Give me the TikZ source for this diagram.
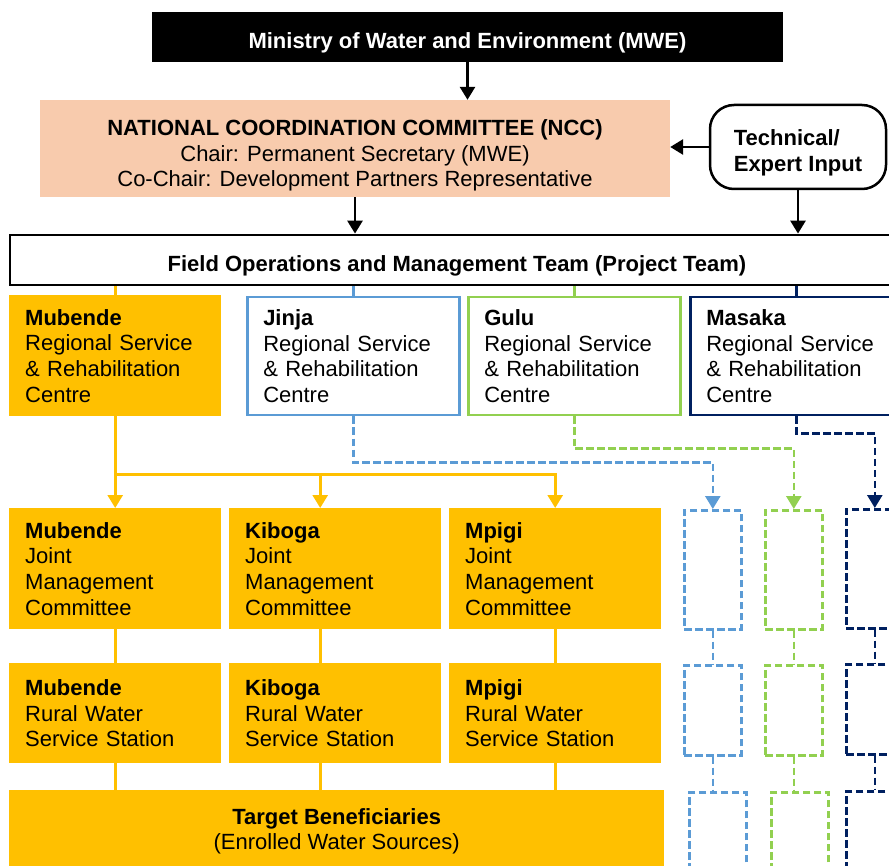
\documentclass[tikz,border=0pt]{standalone}
\usepackage{fontspec}
\setmainfont{Liberation Sans}
\usetikzlibrary{arrows.meta}
\definecolor{unitorange}{HTML}{FFC000}
\definecolor{nccpeach}{HTML}{F8CBAD}
\definecolor{jinjablue}{HTML}{5B9BD5}
\definecolor{gulugreen}{HTML}{92D050}
\definecolor{masakanavy}{HTML}{002060}
\tikzset{
  txt/.style={font=\fontsize{22}{25.7}\selectfont},
  btxt/.style={font=\fontsize{22}{25.7}\selectfont\bfseries},
  unitbox/.style={txt,anchor=north west,text width=180pt,inner xsep=16pt,inner ysep=0pt,align=left},
  orgbox/.style={unitbox,fill=unitorange},
  regbox/.style={unitbox,draw=#1,line width=2.5pt,fill=white},
  ghostbox/.style={anchor=north west,draw=#1,line width=2.6pt,dash pattern=on 7.5pt off 3.5pt,minimum width=57pt},
  link/.style={line width=2.8pt,draw=#1},
  linkarrow/.style={link=#1,-{Triangle[width=15pt,length=13pt]}},
  ghostline/.style={link=#1,line width=2.6pt,dash pattern=on 7.5pt off 3.5pt},
  ghostlink/.style={ghostline=#1,-{Triangle[width=15pt,length=13pt]}},
}
\begin{document}
\begin{tikzpicture}[x=1pt,y=-1pt]
\useasboundingbox (0,0) rectangle (889,866);
\clip (0,0) rectangle (889,866);
% ministry, committee and project team
\node[btxt,fill=black,text=white,text height=24pt,text depth=0pt,minimum width=631pt,minimum height=50pt] (mwe) at (467.5,37) {Ministry of Water and Environment (MWE)};
\node[txt,fill=nccpeach,align=center,minimum width=630pt,minimum height=97pt,inner ysep=0pt] (ncc) at (355,148.5)
  {\rule{0pt}{30pt}\textbf{NATIONAL COORDINATION COMMITTEE (NCC)}\\Chair: Permanent Secretary (MWE)\\Co-Chair: Development Partners Representative};
\node[btxt,draw,line width=2.5pt,rounded corners=24pt,align=left,minimum width=176pt,minimum height=84pt] (tech) at (798,147) {\rule{0pt}{27pt}Technical/\\Expert Input};
\node[btxt,draw,line width=2.8pt,fill=white,text height=24pt,text depth=0pt,minimum width=894pt,minimum height=50pt] (fomt) at (457,260) {Field Operations and Management Team (Project Team)};
% regional centres
\node[orgbox,minimum height=121pt] (mrsc) at (9,295) {\textbf{Mubende}\\Regional Service\\\& Rehabilitation\\Centre};
\node[regbox=jinjablue,minimum height=118pt] (jrsc) at (246,296) {\textbf{Jinja}\\Regional Service\\\& Rehabilitation\\Centre};
\node[regbox=gulugreen,minimum height=118pt] (grsc) at (467,296) {\textbf{Gulu}\\Regional Service\\\& Rehabilitation\\Centre};
\node[regbox=masakanavy,minimum height=118pt] (nrsc) at (689,296) {\textbf{Masaka}\\Regional Service\\\& Rehabilitation\\Centre};
% joint management committees
\node[orgbox,minimum height=121pt] (mjmc) at (9,508) {\textbf{Mubende}\\Joint\\Management\\Committee};
\node[orgbox,minimum height=121pt] (kjmc) at (229,508) {\textbf{Kiboga}\\Joint\\Management\\Committee};
\node[orgbox,minimum height=121pt] (pjmc) at (449,508) {\textbf{Mpigi}\\Joint\\Management\\Committee};
% rural water service stations
\node[orgbox,minimum height=100pt] (mrws) at (9,663) {\textbf{Mubende}\\Rural Water\\Service Station};
\node[orgbox,minimum height=100pt] (krws) at (229,663) {\textbf{Kiboga}\\Rural Water\\Service Station};
\node[orgbox,minimum height=100pt] (prws) at (449,663) {\textbf{Mpigi}\\Rural Water\\Service Station};
\node[txt,fill=unitorange,anchor=north west,align=center,minimum width=655pt,minimum height=82pt] (tgt) at (9,790) {\textbf{Target Beneficiaries}\\(Enrolled Water Sources)};
% empty dashed columns
\node[ghostbox=jinjablue,minimum height=119pt] (jinja1) at (683,509) {};
\node[ghostbox=jinjablue,minimum height=90pt] (jinja2) at (683,664) {};
\node[ghostbox=jinjablue,minimum height=90pt] (jinja3) at (688,791) {};
\node[ghostbox=gulugreen,minimum height=119pt] (gulu1) at (764,509) {};
\node[ghostbox=gulugreen,minimum height=90pt] (gulu2) at (764,664) {};
\node[ghostbox=gulugreen,minimum height=90pt] (gulu3) at (770,791) {};
\node[ghostbox=masakanavy,minimum height=119pt] (masaka1) at (845,508) {};
\node[ghostbox=masakanavy,minimum height=90pt] (masaka2) at (845,663) {};
\node[ghostbox=masakanavy,minimum height=90pt] (masaka3) at (845,790) {};
% connectors
\draw[linkarrow=black] (mwe.south) -- (mwe.south |- ncc.north);
\draw[linkarrow=black] (tech.west) -- (tech.west -| ncc.east);
\draw[linkarrow=black] (ncc.south) -- (ncc.south |- fomt.north);
\draw[linkarrow=black] (tech.south) -- (tech.south |- fomt.north);
\draw[link=unitorange] (fomt.south -| mrsc.north) -- (mrsc.north);
\draw[link=jinjablue] (fomt.south -| jrsc.north) -- (jrsc.north);
\draw[link=gulugreen] (fomt.south -| grsc.north) -- (grsc.north);
\draw[link=masakanavy] (fomt.south -| nrsc.north) -- (nrsc.north);
\draw[link=unitorange] (mrsc.south) -- ++(0,58) coordinate (msplit);
\draw[linkarrow=unitorange] (msplit) -- (mjmc.north);
\draw[linkarrow=unitorange] (msplit) -| ([xshift=-15pt]kjmc.north);
\draw[linkarrow=unitorange] (msplit) -| (pjmc.north);
\foreach \a/\b/\s in {mjmc/mrws/0,kjmc/krws/-15,pjmc/prws/0}{
  \draw[link=unitorange] ([xshift=\s pt]\a.south) -- ([xshift=\s pt]\b.north);
  \draw[link=unitorange] ([xshift=\s pt]\b.south) -- ([xshift=\s pt]\b.south |- tgt.north);
}
\draw[ghostlink=jinjablue] (jrsc.south) -- ++(0,46) -| (jinja1.north);
\draw[ghostlink=gulugreen] (grsc.south) -- ++(0,32) -| (gulu1.north);
\draw[ghostlink=masakanavy] (nrsc.south) -- ++(0,17) -| (masaka1.north);
\foreach \c/\g in {jinjablue/jinja,gulugreen/gulu,masakanavy/masaka}{
  \draw[ghostline=\c] (\g1.south) -- (\g2.north);
  \draw[ghostline=\c] (\g2.south) -- (\g2.south |- \g3.north);
}
\end{tikzpicture}
\end{document}
